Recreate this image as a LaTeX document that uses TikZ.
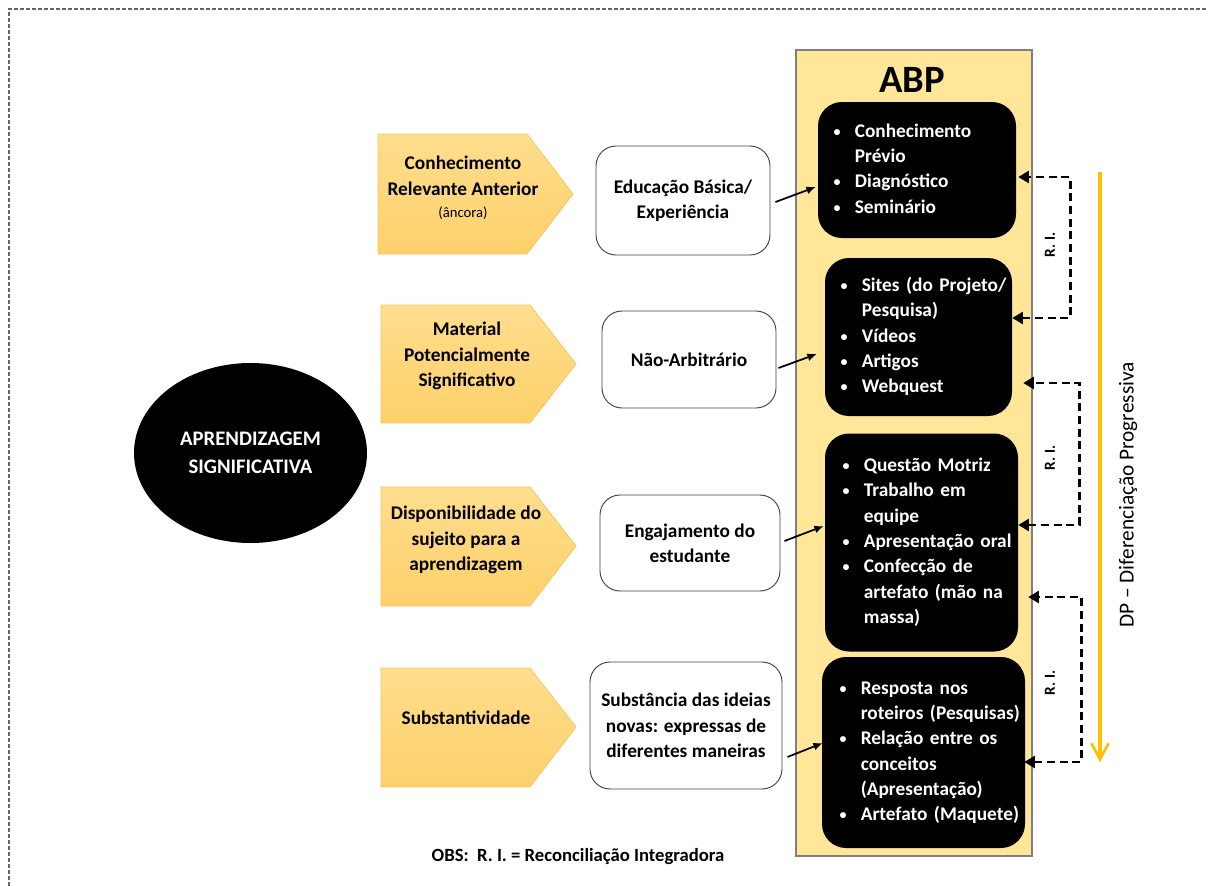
\documentclass[tikz,border=0pt]{standalone}
\usepackage{fontspec}
\setmainfont{Carlito}
\usetikzlibrary{arrows.meta, calc, shapes.geometric}

\definecolor{abpfill}{HTML}{FFE699}
\definecolor{chevtop}{HTML}{FFDE8E}
\definecolor{chevbot}{HTML}{FDD06A}
\definecolor{chevline}{HTML}{F6C75F}
\definecolor{dporange}{HTML}{FFC000}

\newcommand{\bu}{\makebox[16pt][l]{\raisebox{0.8pt}{\fontsize{10.5}{10.5}\selectfont\textbullet}}}
\newcommand{\blist}[1]{\begin{tabular}{@{}l@{}l@{}}#1\end{tabular}}

\tikzset{
  txt/.style={font=\fontsize{14.5}{19}\selectfont\bfseries},
  sz/.style 2 args={minimum width=#1*0.75pt, minimum height=#2*0.75pt},
  chev/.style={top color=chevtop, bottom color=chevbot, draw=chevline, line width=0.6pt},
  wbox/.style={draw=black!75, rounded corners=15pt, fill=white, line width=0.7pt, align=center, txt},
  bbox/.style={fill=black, rounded corners=18pt, text=white, txt, align=left, inner sep=0pt},
  link/.style={-{Latex[length=7pt,width=6pt]}, line width=1.3pt},
  ri/.style={{Triangle[length=8pt,width=9pt]}-{Triangle[length=8pt,width=9pt]}, dash pattern=on 6pt off 3.5pt, line width=2.2pt},
  rilabel/.style={rotate=90, font=\fontsize{11.5}{12}\selectfont\bfseries},
}

\begin{document}
\begin{tikzpicture}[x=0.75pt, y=-0.75pt]
\useasboundingbox (0,0) rectangle (1208,886);
% frame
\draw[gray!80!black, dash pattern=on 3pt off 1.5pt, line width=0.8pt] (9,886) -- (9,9) -- (1208,9);

% central idea
\node[ellipse, fill=black, text=white, sz={233}{180}, align=center, font=\fontsize{15.5}{21}\selectfont\bfseries] (ap) at (250.5,453) {APRENDIZAGEM\\SIGNIFICATIVA};

% conditions (chevrons)
\shade[chev] (378,134) -- (527,134) -- (573,194) -- (527,254) -- (378,254) -- cycle;
\node[txt, align=center] (k1) at (463,188) {Conhecimento\\Relevante Anterior\\[-2pt]{\fontsize{11}{13}\selectfont\mdseries(âncora)}};
\shade[chev] (381,305) -- (530,305) -- (576,364) -- (530,423) -- (381,423) -- cycle;
\node[txt, align=center] (k2) at (467,356) {Material\\Potencialmente\\Significativo};
\shade[chev] (381,487) -- (530,487) -- (576,546) -- (530,606) -- (381,606) -- cycle;
\node[txt, align=center] (k3) at (466,540) {Disponibilidade do\\sujeito para a\\aprendizagem};
\shade[chev] (381,668) -- (530,668) -- (576,727) -- (530,787) -- (381,787) -- cycle;
\node[txt, align=center] (k4) at (466,718) {Substantividade};

% white boxes
\node[wbox, sz={174}{109}] (w1) at (683,200.5) {Educação Básica/\\Experiência};
\node[wbox, sz={174}{97}] (w2) at (689,359.5) {Não-Arbitrário};
\node[wbox, sz={180}{96}] (w3) at (690,543) {Engajamento do\\estudante};
\node[wbox, sz={192}{127}] (w4) at (686,725.5) {Substância das ideias\\novas: expressas de\\diferentes maneiras};

% ABP column
\node[fill=abpfill, draw=gray, line width=0.8pt, sz={236}{806}] (abp) at (914,453) {};
\node[font=\fontsize{29}{30}\selectfont\bfseries] (abpt) at (912,80) {ABP};

\node[bbox, sz={198}{136}, text width=167*0.75pt] (b1) at (917,170) {\blist{%
\bu & Conhecimento\\ & Prévio\\ \bu & Diagnóstico\\ \bu & Seminário}};
\node[bbox, sz={187}{158}, text width=156*0.75pt] (b2) at (918.5,337) {\blist{%
\bu & Sites (do Projeto/\\ & Pesquisa)\\ \bu & Vídeos\\ \bu & Artigos\\ \bu & Webquest}};
\node[bbox, sz={193}{218}, text width=158*0.75pt] (b3) at (921.5,542.5) {\blist{%
\bu & Questão Motriz\\ \bu & Trabalho em\\ & equipe\\ \bu & Apresentação oral\\ \bu & Confecção de\\ & artefato (mão na\\ & massa)}};
\node[bbox, sz={203}{191}, text width=168*0.75pt] (b4) at (923.5,752.5) {\blist{%
\bu & Resposta nos\\ & roteiros (Pesquisas)\\ \bu & Relação entre os\\ & conceitos\\ & (Apresentação)\\ \bu & Artefato (Maquete)}};

% links
\draw[link] ($(w1.east)+(5,1.5)$) -- ($(b1.west)+(-2,17)$);
\draw[link] ($(w2.east)+(2,8.5)$) -- ($(b2.west)+(-8,17)$);
\draw[link] ($(w3.east)+(4,-2)$) -- ($(b3.west)+(-1,-16.5)$);
\draw[link] ($(w4.east)+(5,31.5)$) -- ($(b4.west)+(1,-9.5)$);

% integrative reconciliation
\draw[ri] ($(b2.east)+(0,-19)$) -- ++(58,0) |- ($(b1.east)+(2,7)$);
\draw[ri] ($(b3.east)+(0,-17.5)$) -- ++(61,0) |- ($(b2.east)+(11,46)$);
\draw[ri] ($(b4.east)+(-1,9.5)$) -- ++(57,0) |- ($(b3.east)+(10,54.5)$);
\node[rilabel] (ri1) at (1050,245) {R. I.};
\node[rilabel] (ri2) at (1050,458) {R. I.};
\node[rilabel] (ri3) at (1050,683) {R. I.};

% progressive differentiation
\coordinate (dp1) at (1100,172);
\coordinate (dp2) at (1100,762);
\draw[dporange, line width=2.6pt, -{Straight Barb[length=12pt,width=13pt,line width=2pt]}] (dp1) -- (dp2);
\node[rotate=90, font=\fontsize{16}{18}\selectfont] (dpl) at (1128,495) {DP – Diferenciação Progressiva};

\node[font=\fontsize{14}{16}\selectfont\bfseries] (obs) at (578,857) {OBS:\ \ R. I. = Reconciliação Integradora};
\end{tikzpicture}
\end{document}
